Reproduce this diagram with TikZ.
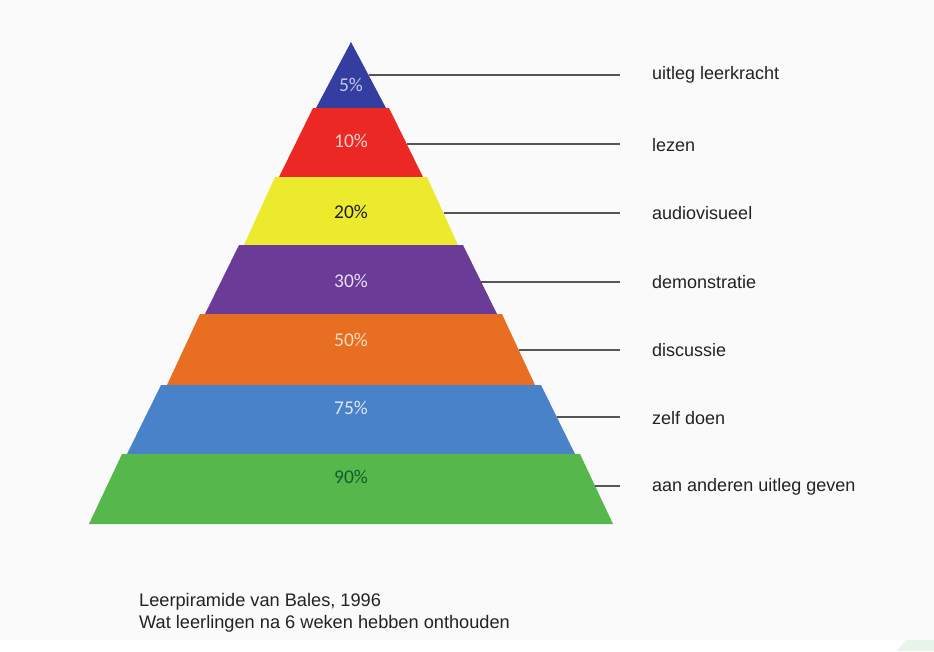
\documentclass[tikz,border=0pt]{standalone}
\usepackage{fontspec}
\setmainfont{Liberation Sans}
\newfontfamily\pctfont{Carlito}
\definecolor{bgc}{RGB}{250,250,250}
\definecolor{cA}{RGB}{52,62,160}
\definecolor{cB}{RGB}{236,40,36}
\definecolor{cC}{RGB}{236,234,44}
\definecolor{cD}{RGB}{106,60,152}
\definecolor{cE}{RGB}{232,110,34}
\definecolor{cF}{RGB}{72,130,200}
\definecolor{cG}{RGB}{86,184,74}
\definecolor{tA}{RGB}{200,200,232}
\definecolor{tB}{RGB}{250,212,204}
\definecolor{tC}{RGB}{30,30,30}
\definecolor{tD}{RGB}{232,222,242}
\definecolor{tE}{RGB}{250,222,192}
\definecolor{tF}{RGB}{222,232,246}
\definecolor{tG}{RGB}{18,92,48}
\definecolor{linec}{RGB}{85,85,85}
\definecolor{txtc}{RGB}{35,35,35}
\definecolor{cornerg}{RGB}{232,245,235}
\tikzset{
  pct/.style={font=\pctfont\fontsize{19.5}{22}\selectfont, inner sep=0pt},
  lbl/.style={font=\fontsize{18}{21}\selectfont, text=txtc, anchor=west, inner sep=0pt},
  conn/.style={draw=linec, line width=1.4pt},
  captext/.style={font=\fontsize{18.2}{21.5}\selectfont, text=txtc, anchor=north west, inner sep=0pt, align=left}
}
\begin{document}
\begin{tikzpicture}[x=1pt,y=-1pt]
\useasboundingbox (0,0) rectangle (934,651);
\fill[white] (0,0) rectangle (934,651);
\fill[bgc] (0,0) rectangle (934,640);
\fill[cornerg] (897,651) -- (906,640) -- (934,640) -- (934,651) -- cycle;
% layers
\fill[cA] (351,42) -- (386,108) -- (316,108) -- cycle;
\fill[cB] (313,108) -- (389,108) -- (423,177) -- (279,177) -- cycle;
\fill[cC] (275,177) -- (427,177) -- (458,245) -- (244,245) -- cycle;
\fill[cD] (239,245) -- (463,245) -- (497,314) -- (205,314) -- cycle;
\fill[cE] (200,314) -- (502,314) -- (535,385) -- (167,385) -- cycle;
\fill[cF] (161,385) -- (541,385) -- (575,454) -- (127,454) -- cycle;
\fill[cG] (122,454) -- (580,454) -- (613,524) -- (89,524) -- cycle;
% percentages
\node[pct, text=tA] (p1) at (351,85) {5\%};
\node[pct, text=tB] (p2) at (351,141) {10\%};
\node[pct, text=tC] (p3) at (351,212) {20\%};
\node[pct, text=tD] (p4) at (351,281) {30\%};
\node[pct, text=tE] (p5) at (351,340) {50\%};
\node[pct, text=tF] (p6) at (351,408) {75\%};
\node[pct, text=tG] (p7) at (351,477) {90\%};
% connector start points (layer edges)
\coordinate (e1) at (368.5,75);
\coordinate (e2) at (406.5,144);
\coordinate (e3) at (443.5,213);
\coordinate (e4) at (481,282);
\coordinate (e5) at (518.5,350);
\coordinate (e6) at (556.5,417);
\coordinate (e7) at (595,486);
% labels
\node[lbl] (l1) at (652,75) {uitleg leerkracht};
\node[lbl] (l2) at (652,145) {lezen};
\node[lbl] (l3) at (652,213) {audiovisueel};
\node[lbl] (l4) at (652,282) {demonstratie};
\node[lbl] (l5) at (652,350) {discussie};
\node[lbl] (l6) at (652,418) {zelf doen};
\node[lbl] (l7) at (652,487) {aan anderen uitleg geven};
\foreach \i/\y in {1/75,2/144,3/213,4/282,5/350,6/417,7/486}{
  \coordinate (c\i) at (620,\y);
  \draw[conn] (e\i) -- (c\i);
}
\node[captext] (caption) at (139,593.5) {Leerpiramide van Bales, 1996\\Wat leerlingen na 6 weken hebben onthouden};
\end{tikzpicture}
\end{document}
